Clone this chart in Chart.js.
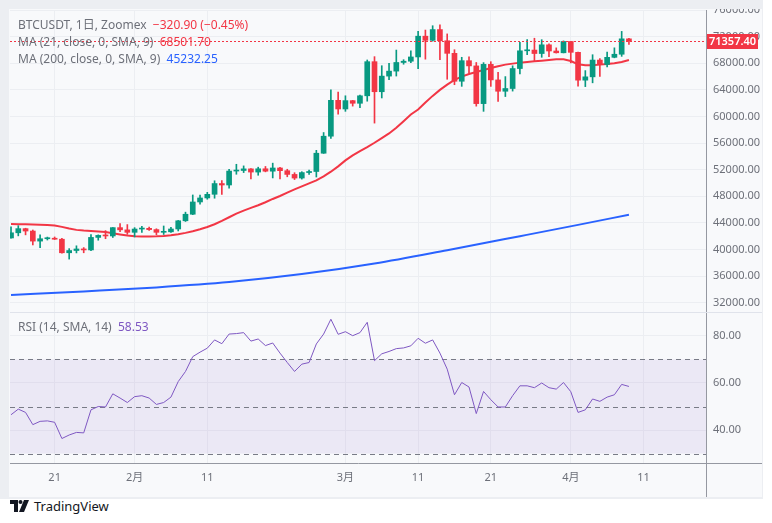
<!DOCTYPE html>
<html>
<head>
<meta charset="utf-8">
<script src="https://cdn.jsdelivr.net/npm/chart.js@4.4.1/dist/chart.umd.min.js"></script>
<style>
  html, body { margin: 0; padding: 0; background: #fff; width: 772px; height: 523px; overflow: hidden;
    font-family: "Noto Sans", "Noto Sans CJK JP", sans-serif; }
  #frame { position: absolute; left: 0; top: 0; width: 763px; height: 499px; background: #eceef2; }
  #panel { position: absolute; left: 9px; top: 9px; width: 753px; height: 488px; background: #f8f9fb; }
  canvas { position: absolute; }
  #main { left: 9px; top: 9px; }
  #rsi { left: 9px; top: 312px; }
  .leg { position: absolute; left: 18px; font-size: 12px; color: #6d7079; white-space: nowrap; line-height: 14px; }
  .red { color: #f23645; }
  .blue { color: #2962ff; }
  .purple { color: #7e57c2; }
  #logo { position: absolute; left: 10px; top: 497px; font-size: 13px; color: #131722; display: flex; align-items: center; }
</style>
</head>
<body>
<div id="frame"></div>
<div id="panel"></div>
<canvas id="main" width="763" height="303"></canvas>
<canvas id="rsi" width="763" height="185"></canvas>

<div class="leg" style="top:18px">BTCUSDT, 1日, Zoomex&nbsp;&nbsp;<span class="red">−320.90 (−0.45%)</span></div>
<div class="leg" style="top:35px">MA (21, close, 0, SMA, 9)&nbsp;&nbsp;<span class="red">68501.70</span></div>
<div class="leg" style="top:52px">MA (200, close, 0, SMA, 9)&nbsp;&nbsp;<span class="blue">45232.25</span></div>
<div class="leg" style="top:320px">RSI (14, SMA, 14)&nbsp;&nbsp;<span class="purple">58.53</span></div>

<div id="logo">
  <svg width="19" height="12" viewBox="0 0 19 12">
    <path d="M0 0h8v12h-4v-8h-4z" fill="#131722"/>
    <circle cx="10.5" cy="2" r="2" fill="#131722"/>
    <path d="M14 0h5l-5 12h-5z" fill="#131722"/>
  </svg>
  <span style="margin-left:5px">TradingView</span>
</div>

<script>
// day index 0 = 15 Jan, last bar (85) = 9 Apr
const opens = [41732,42511,43137,42776,41262,41618,41665,41545,39507,39845,40077,39934,41816,42120,42035,43288,42952,
  42582,43075,43185,42992,42583,42658,43084,44318,45301,47147,47751,48300,49917,49699,51795,51880,52124,51642,52137,51774,52258,51849,51288,50744,51568,51728,54477,57037,62432,
  61130,62387,61987,63113,68245,63724,66074,66823,68124,68313,68955,72078,71452,73072,71388,69499,65300,68393,67609,61937,67840,65501,63796,64209,67211,69880,69988,69469,70780,69850,69582,
  71280,69649,65463,65963,68488,67820,68896,69361,71678];
const highs = [43400,43578,43198,42930,42196,41866,41882,41681,40129,40555,40288,42246,42200,42842,43305,43882,43745,
  43285,43483,43380,43119,43535,43344,44369,45614,48200,48170,48592,50334,50368,52043,52816,52572,52163,52377,52488,52985,52370,52065,51548,51698,51958,54910,57588,64000,63676,
  63115,62433,63231,68499,69000,67637,67985,69990,68541,69887,72800,73000,73650,73777,72419,70043,68904,68956,68124,68100,68240,66650,65999,67624,71150,71561,71769,71552,70916,70321,71366,
  71288,69674,66903,69291,68725,69692,70326,72797,71760];
const lows = [41718,42050,42200,40683,40280,41424,41500,39431,38555,39484,39506,39822,41395,41620,41804,42683,42276,
  41884,42574,42880,42222,42258,42565,42788,44214,45242,46800,47557,47710,48300,49225,51314,51566,50625,51163,51677,50760,50625,50934,50521,50585,51279,50901,54451,56691,60364,
  60777,61561,61321,62300,59005,62786,65551,66082,67861,68094,67194,68620,71333,68555,65600,64780,64533,66565,61555,60775,64529,62260,63000,63820,66385,69280,68359,68903,69009,69540,69562,
  68062,64550,64493,65064,66011,67447,68824,69043,70850];
const closes = [42511,43137,42776,41262,41618,41665,41545,39507,39845,40077,39934,41816,42120,42035,43288,42952,42582,
  43075,43185,42992,42583,42658,43084,44318,45301,47147,47751,48300,49917,49699,51795,51880,52124,51642,52137,51774,52258,51849,51288,50744,51568,51728,54477,57037,62432,61130,
  62387,61987,63113,68245,63724,66074,66823,68124,68313,68955,72078,71452,73072,71388,69499,65300,68393,67609,61937,67840,65501,63796,64209,67211,69880,69988,69469,70780,69850,69582,71280,
  69649,65463,65963,68488,67820,68896,69361,71678,71357.4];

const ma21 = [43830,43800,43780,43750,43730,43700,43600,43400,43150,42950,42850,42780,42700,42620,42450,42270,42100,
  41990,41970,41960,41980,42030,42130,42300,42500,42750,43050,43380,43800,44300,44850,45400,45850,46250,46650,47100,47600,48050,48550,49050,49500,49950,50400,51000,51700,52500,
  53400,54150,54800,55400,56050,56750,57450,58300,59300,60300,61050,62100,63100,64000,64800,65500,66000,66400,66700,67000,67300,67550,67800,67950,68100,68200,68300,68400,68500,68600,68600,
  68350,67850,67700,67700,67800,67900,68000,68200,68501.7];
const ma200Days = [0, 10, 20, 30, 40, 50, 60, 70, 78, 85];
const ma200 = [33150, 33700, 34300, 35100, 36300, 37900, 39900, 42000, 43700, 45232.25];

const rsi = [46.5,48.9,47.5,42.3,43.7,43.9,43.3,36.4,37.9,39.0,38.8,48.6,50.0,49.8,55.4,53.6,51.7,
  54.2,54.6,53.6,50.9,51.7,54.0,60.6,64.9,71.2,73.1,74.8,78.3,76.7,80.8,81.0,81.4,77.8,78.7,75.9,77.0,72.7,68.7,64.9,68.0,68.7,76.6,80.8,87.1,80.7,
  81.8,80.1,81.4,85.8,69.5,72.4,73.4,74.6,74.9,75.8,79.0,76.9,78.3,72.7,65.9,55.0,60.2,58.3,47.0,56.4,52.9,49.8,49.8,54.6,58.8,58.8,58.0,60.0,58.0,57.4,60.2,
  56.3,47.5,48.6,53.2,52.2,54.0,55.0,59.4,58.53];
const rsiLevels = [70, 50, 30];

const xTickDays = [6, 17, 27, 46, 56, 66, 77, 87];
const xTickLabels = ['21', '2月', '11', '3月', '11', '21', '4月', '11'];
const priceTicks = [32000, 36000, 40000, 44000, 48000, 52000, 56000, 60000, 64000, 68000, 72000, 76000];
const rsiTicks = [40, 60, 80];

const UP = '#089981', DOWN = '#f23645', GRID = '#eceef2', AXIS = '#9598a1', TXT = '#6d7079';
const X_MIN = -0.14, X_MAX = 95.6;

Chart.defaults.font.family = "'Noto Sans', 'Noto Sans CJK JP', sans-serif";
Chart.defaults.font.size = 11;
Chart.defaults.color = TXT;

const days = closes.map((c, i) => i);
const candleColors = closes.map((c, i) => c >= opens[i] ? UP : DOWN);

function xScale(showLabels) {
  return {
    type: 'linear', min: X_MIN, max: X_MAX, offset: false,
    afterBuildTicks: s => { s.ticks = xTickDays.map(v => ({ value: v })); },
    afterFit: s => { s.height = showLabels ? 34 : 0; s.paddingLeft = 0; s.paddingRight = 0; },
    grid: { color: GRID, drawTicks: false, offset: false },
    border: { display: showLabels, color: AXIS },
    ticks: { display: showLabels, autoSkip: false, maxRotation: 0, padding: 8,
      callback: (v, i) => xTickLabels[i], color: TXT }
  };
}

function yFit(s) { s.width = 56; s.paddingTop = 0; s.paddingBottom = 0; }

const lastPricePlugin = {
  id: 'lastPrice',
  afterDraw(chart) {
    const ctx = chart.ctx, a = chart.chartArea, y = chart.scales.y.getPixelForValue(closes[closes.length - 1]);
    ctx.save();
    ctx.strokeStyle = DOWN; ctx.lineWidth = 1; ctx.setLineDash([2, 2]);
    ctx.beginPath(); ctx.moveTo(a.left, Math.round(y) + 0.5); ctx.lineTo(a.right, Math.round(y) + 0.5); ctx.stroke();
    ctx.setLineDash([]);
    ctx.fillStyle = DOWN;
    ctx.fillRect(a.right + 1, Math.round(y) - 7, 51, 15);
    ctx.fillStyle = '#fff'; ctx.font = "600 11px 'Noto Sans'";
    ctx.textAlign = 'center'; ctx.textBaseline = 'middle';
    ctx.fillText(closes[closes.length - 1].toFixed(2), a.right + 26.5, Math.round(y) + 0.5);
    ctx.restore();
  }
};

new Chart(document.getElementById('main'), {
  type: 'bar',
  data: {
    datasets: [
      { label: 'body', data: days.map(i => ({ x: i, y: [opens[i], closes[i]] })), backgroundColor: candleColors,
        grouped: false, barThickness: 5, maxBarThickness: 5, minBarLength: 1, borderWidth: 0 },
      { label: 'wick', data: days.map(i => ({ x: i, y: [lows[i], highs[i]] })), backgroundColor: candleColors,
        grouped: false, barThickness: 1, maxBarThickness: 1, borderWidth: 0 },
      { type: 'line', label: 'MA21', data: days.map(i => ({ x: i, y: ma21[i] })), borderColor: '#f23645',
        borderWidth: 2, pointRadius: 0, tension: 0 },
      { type: 'line', label: 'MA200', data: ma200Days.map((d, k) => ({ x: d, y: ma200[k] })), borderColor: '#2962ff',
        borderWidth: 2, pointRadius: 0, cubicInterpolationMode: 'monotone' }
    ]
  },
  options: {
    responsive: false, animation: false, devicePixelRatio: 1,
    layout: { padding: { left: 1, top: 1, right: 10, bottom: 0 } },
    plugins: { legend: { display: false }, tooltip: { enabled: false } },
    scales: {
      x: xScale(false),
      y: {
        position: 'right', min: 30600, max: 76015,
        afterBuildTicks: s => { s.ticks = priceTicks.map(v => ({ value: v })); },
        afterFit: yFit,
        grid: { color: GRID, drawTicks: false },
        border: { display: true, color: AXIS },
        ticks: { padding: 7, callback: v => v.toFixed(2), color: TXT }
      }
    }
  },
  plugins: [lastPricePlugin]
});

const rsiPanePlugin = {
  id: 'rsiPane',
  beforeDatasetsDraw(chart) {
    const ctx = chart.ctx, a = chart.chartArea, ys = chart.scales.y;
    ctx.save();
    const y70 = ys.getPixelForValue(rsiLevels[0]), y30 = ys.getPixelForValue(rsiLevels[2]);
    ctx.fillStyle = 'rgba(126,87,194,0.1)';
    ctx.fillRect(a.left, y70, a.right - a.left, y30 - y70);
    ctx.strokeStyle = '#787b86'; ctx.lineWidth = 1; ctx.setLineDash([5, 4]);
    rsiLevels.forEach(l => {
      const y = Math.round(ys.getPixelForValue(l)) + 0.5;
      ctx.beginPath(); ctx.moveTo(a.left, y); ctx.lineTo(a.right, y); ctx.stroke();
    });
    ctx.restore();
  },
  afterDraw(chart) {
    const ctx = chart.ctx, a = chart.chartArea;
    ctx.save();
    ctx.strokeStyle = '#e0e3eb'; ctx.lineWidth = 1;
    ctx.beginPath(); ctx.moveTo(a.left, 0.5); ctx.lineTo(chart.width - 10, 0.5); ctx.stroke();
    ctx.strokeStyle = AXIS;
    ctx.beginPath(); ctx.moveTo(a.right + 0.5, a.bottom); ctx.lineTo(a.right + 0.5, chart.height); ctx.stroke();
    ctx.beginPath(); ctx.moveTo(a.right, a.bottom + 0.5); ctx.lineTo(chart.width - 10, a.bottom + 0.5); ctx.stroke();
    ctx.restore();
  }
};

new Chart(document.getElementById('rsi'), {
  type: 'line',
  data: {
    datasets: [
      { label: 'RSI', data: days.map(i => ({ x: i, y: rsi[i] })), borderColor: '#7e57c2', borderWidth: 1,
        pointRadius: 0, tension: 0 }
    ]
  },
  options: {
    responsive: false, animation: false, devicePixelRatio: 1,
    layout: { padding: { left: 1, top: 0, right: 10, bottom: 0 } },
    plugins: { legend: { display: false }, tooltip: { enabled: false } },
    scales: {
      x: xScale(true),
      y: {
        position: 'right', min: 26.0, max: 90.17,
        afterBuildTicks: s => { s.ticks = rsiTicks.map(v => ({ value: v })); },
        afterFit: yFit,
        grid: { color: GRID, drawTicks: false },
        border: { display: true, color: AXIS },
        ticks: { padding: 7, callback: v => v.toFixed(2), color: TXT }
      }
    }
  },
  plugins: [rsiPanePlugin]
});
</script>
</body>
</html>
